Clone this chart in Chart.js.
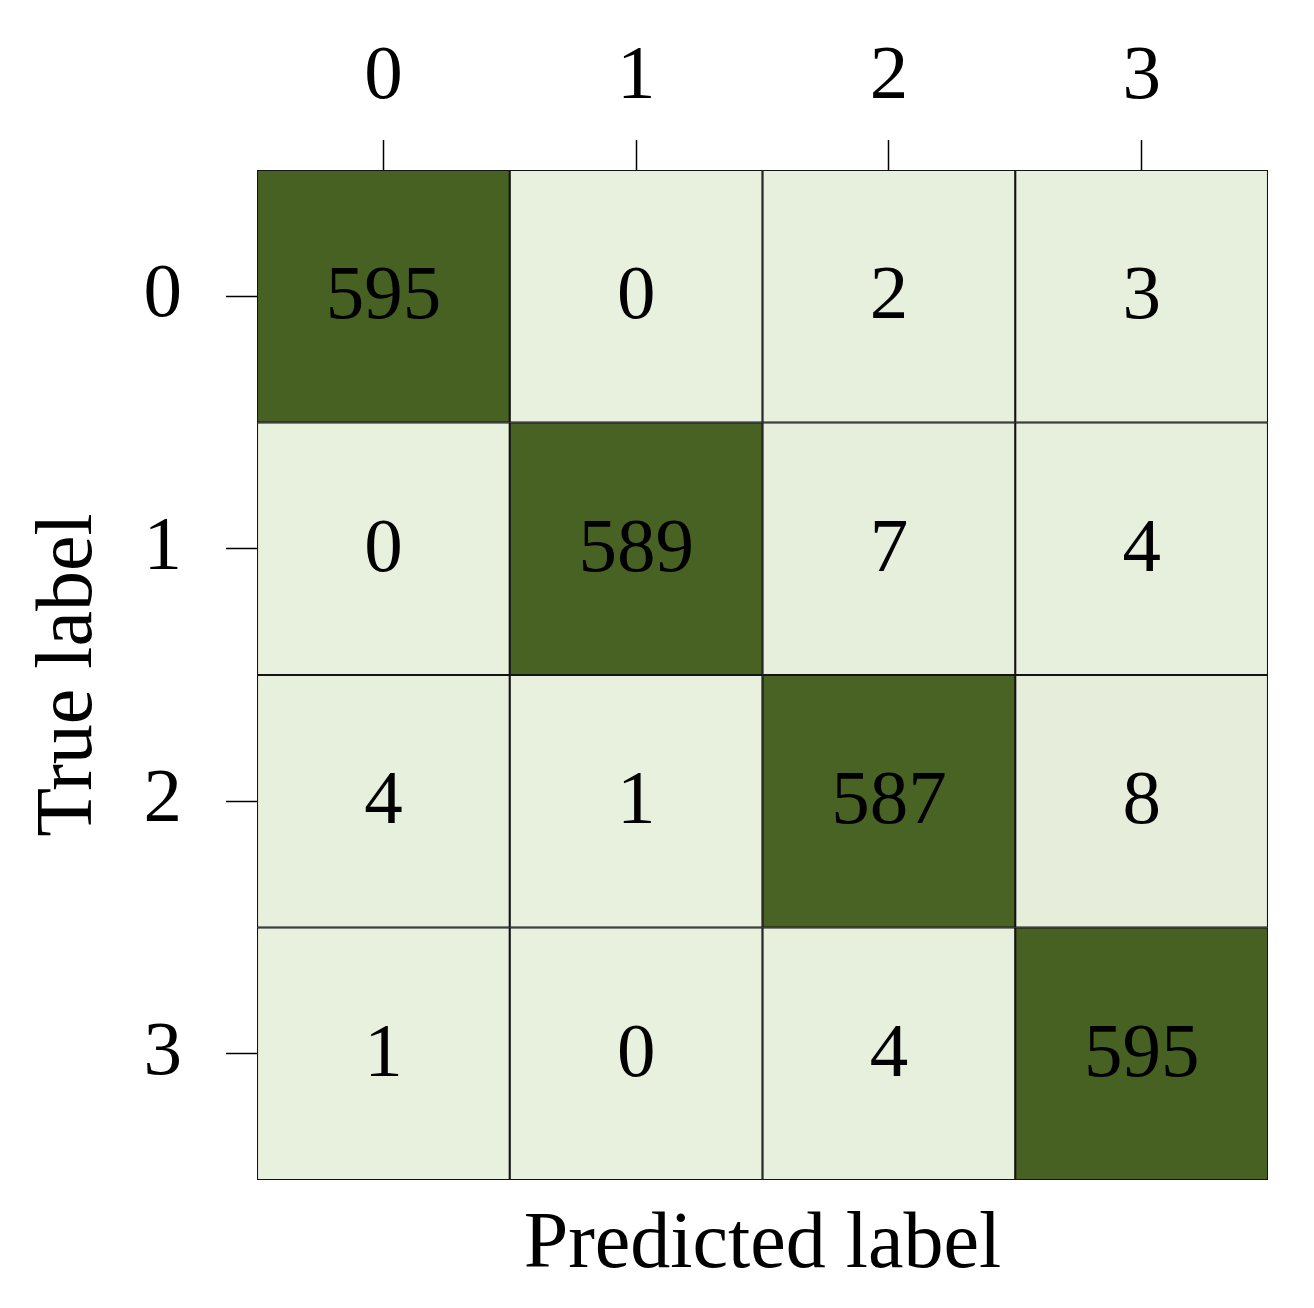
<!DOCTYPE html>
<html>
<head>
<meta charset="utf-8">
<script src="https://cdn.jsdelivr.net/npm/chart.js@4.4.1/dist/chart.umd.min.js"></script>
<style>
  body { margin: 0; background: #fff; }
  #wrap { width: 1314px; height: 1308px; }
</style>
</head>
<body>
<div id="wrap"><canvas id="cm-chart"></canvas></div>
<script>
// class names (tick labels on both axes)
const classes = ["0", "1", "2", "3"];

// confusion matrix, one array per true label
const row0 = [595, 0, 2, 3];
const row1 = [0, 589, 7, 4];
const row2 = [4, 1, 587, 8];
const row3 = [1, 0, 4, 595];
const rows = [row0, row1, row2, row3];

const lightColor = [232, 240, 222];
const darkColor = [70, 97, 33];
const maxCount = Math.max(...rows.flat());

function cellColor(v) {
    const t = v / maxCount;
    const c = lightColor.map((l, k) => Math.round(l + (darkColor[k] - l) * t));
    return 'rgb(' + c.join(',') + ')';
}

const serif = "'Liberation Serif', 'DejaVu Serif', serif";

// each row is a dataset of floating bars spanning [r-0.5, r+0.5]
const cmDatasets = rows.map((row, r) => ({
    label: 'True ' + classes[r],
    data: row.map(() => [r - 0.5, r + 0.5]),
    backgroundColor: row.map(cellColor),
    borderColor: '#141414',
    borderWidth: 1.4,
    borderSkipped: false,
    barPercentage: 1,
    categoryPercentage: 1,
    grouped: false
}));

// write the counts in the middle of each cell
const cellText = {
    id: 'cellText',
    afterDatasetsDraw(chart) {
        const ctx = chart.ctx;
        ctx.save();
        ctx.font = '77px ' + serif;
        ctx.fillStyle = '#000';
        ctx.textAlign = 'center';
        ctx.textBaseline = 'middle';
        rows.forEach((row, i) => {
            chart.getDatasetMeta(i).data.forEach((bar, j) => {
                const p = bar.getProps(['x', 'y', 'base'], true);
                ctx.fillText(String(row[j]), p.x, (p.y + p.base) / 2 + 2);
            });
        });
        ctx.restore();
    }
};

const cmCanvas = document.getElementById('cm-chart');

let cmChart = new Chart(cmCanvas, {
    type: 'bar',
    data: {
        labels: classes,
        datasets: cmDatasets
    },
    options: {
        responsive: true,
        maintainAspectRatio: false,
        animation: false,
        layout: { padding: { left: 0, right: 46, top: 0, bottom: 0 } },
        scales: {
            x: {
                position: 'top',
                offset: true,
                grid: {
                    offset: false,
                    drawOnChartArea: false,
                    tickLength: 30,
                    tickColor: '#000',
                    tickWidth: 1.5
                },
                border: { display: false },
                ticks: {
                    color: '#000',
                    padding: 16,
                    font: { family: serif, size: 77 }
                },
                afterFit(scale) { scale.height = 170; }
            },
            xb: {
                type: 'category',
                position: 'bottom',
                grid: { display: false },
                border: { display: false },
                ticks: { display: false },
                title: {
                    display: true,
                    text: 'Predicted label',
                    color: '#000',
                    font: { family: serif, size: 80 },
                    padding: { top: 0, bottom: 14 }
                },
                afterFit(scale) { scale.height = 128; }
            },
            y: {
                type: 'linear',
                min: -0.5,
                max: 3.5,
                reverse: true,
                grid: {
                    drawOnChartArea: false,
                    tickLength: 31,
                    tickColor: '#000',
                    tickWidth: 1.5
                },
                border: { display: false },
                afterBuildTicks(scale) {
                    scale.ticks = classes.map((c, i) => ({ value: i }));
                },
                ticks: {
                    color: '#000',
                    padding: 44,
                    font: { family: serif, size: 77 },
                    callback: (v) => classes[v]
                },
                title: {
                    display: true,
                    text: 'True label',
                    color: '#000',
                    font: { family: serif, size: 80 },
                    padding: { top: 22, bottom: 0 }
                },
                afterFit(scale) { scale.width = 257; }
            }
        },
        plugins: {
            legend: { display: false },
            tooltip: { enabled: false }
        }
    },
    plugins: [cellText]
});
</script>
</body>
</html>
